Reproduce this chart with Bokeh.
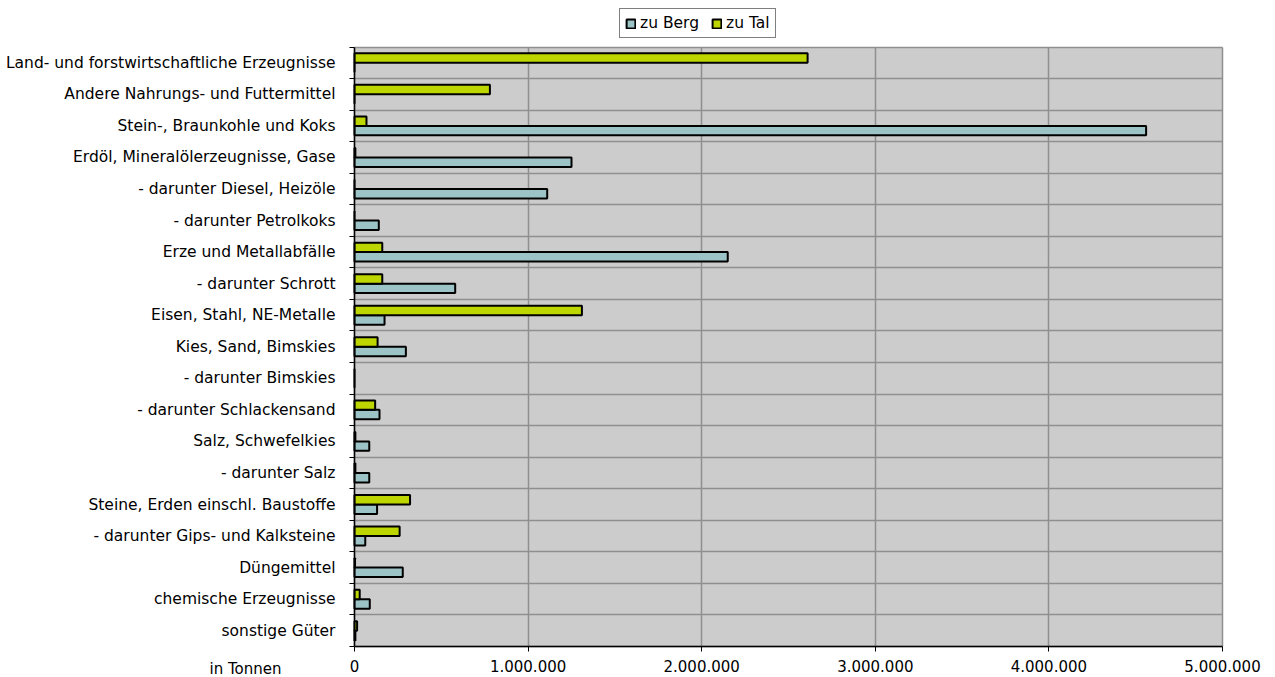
from bokeh.plotting import figure
from bokeh.models import (ColumnDataSource, Range1d, FixedTicker, Legend, LegendItem,
                          Label, BoxAnnotation)
from bokeh.embed import file_html
from bokeh.resources import INLINE

categories = [
    "Land- und forstwirtschaftliche Erzeugnisse",
    "Andere Nahrungs- und Futtermittel",
    "Stein-, Braunkohle und Koks",
    "Erdöl, Mineralölerzeugnisse, Gase",
    "- darunter Diesel, Heizöle",
    "- darunter Petrolkoks",
    "Erze und Metallabfälle",
    "- darunter Schrott",
    "Eisen, Stahl, NE-Metalle",
    "Kies, Sand, Bimskies",
    "- darunter Bimskies",
    "- darunter Schlackensand",
    "Salz, Schwefelkies",
    "- darunter Salz",
    "Steine, Erden einschl. Baustoffe",
    "- darunter Gips- und Kalksteine",
    "Düngemittel",
    "chemische Erzeugnisse",
    "sonstige Güter",
]

zu_berg = [0, 0, 4560000, 1250000, 1110000, 140000, 2150000, 580000, 173000, 296000,
           0, 144000, 85000, 85000, 130000, 62000, 278000, 88000, 5000]
zu_tal = [2610000, 780000, 69000, 5000, 0, 0, 160000, 160000, 1310000, 133000,
          0, 119000, 5000, 5000, 320000, 260000, 3000, 30000, 15000]

x_ticks = [0, 1000000, 2000000, 3000000, 4000000, 5000000]
x_tick_labels = ["0", "1.000.000", "2.000.000", "3.000.000", "4.000.000", "5.000.000"]
unit_text = "in Tonnen"
series_names = ["zu Berg", "zu Tal"]

FONT = "DejaVu Sans"
FS_CAT = "15.5px"
FS_NUM = "15px"
FS_LEG = "15.5px"
W, H = 1275, 677
# plot-area placement on the canvas (pixels)
PL, PR, PT, PB = 354, 1222, 46.5, 646
TICK_OUT, X_STANDOFF = 5, 8

n = len(categories)
xmax = x_ticks[-1]
centers = [i + 0.5 for i in range(n)]
boundaries = list(range(n + 1))

# ranges so that the plot area lands at PL..PR / PT..PB while the frame fills the canvas
xpp = xmax / (PR - PL)
ypp = n / (PB - PT)
x_range = Range1d(-PL * xpp, (W - PL) * xpp)
y_range = Range1d(n + (H - PB) * ypp, -PT * ypp)

src = ColumnDataSource(dict(
    y_tal=[c - 0.15 for c in centers],
    y_berg=[c + 0.15 for c in centers],
    berg=zu_berg,
    tal=zu_tal,
))

p = figure(width=W, height=H, output_backend="svg", toolbar_location=None,
           x_range=x_range, y_range=y_range,
           min_border_left=0, min_border_right=0, min_border_top=0, min_border_bottom=0)
p.border_fill_color = "white"
p.background_fill_color = "white"
p.outline_line_color = None

# grey plot area
p.add_layout(BoxAnnotation(left=0, right=xmax, top=0, bottom=n, fill_color="#CCCCCC",
                           fill_alpha=1, line_color=None, level="image"))

r_berg = p.hbar(y="y_berg", left=0, right="berg", height=0.3, source=src,
                fill_color="#9CC4C6", line_color="black", line_width=2)
r_tal = p.hbar(y="y_tal", left=0, right="tal", height=0.3, source=src,
               fill_color="#BED600", line_color="black", line_width=2)

# grids (category boundaries and value ticks)
p.xgrid.ticker = FixedTicker(ticks=x_ticks)
p.ygrid.ticker = FixedTicker(ticks=boundaries)
for g in (p.xgrid[0], p.ygrid[0]):
    g.grid_line_color = "#8F8F8F"
    g.grid_line_width = 1.5
try:
    p.xgrid[0].cross_bounds = (0, n)
    p.ygrid[0].cross_bounds = (0, xmax)
    p.xgrid[0].bounds = (0, xmax)
    p.ygrid[0].bounds = (0, n)
except Exception:
    for kw in (dict(right=0), dict(left=xmax), dict(bottom=0), dict(top=n)):
        p.add_layout(BoxAnnotation(fill_color="white", fill_alpha=1, line_color=None,
                                   level="underlay", **kw))

# x axis
xa = p.xaxis[0]
xa.fixed_location = n
xa.bounds = (0, xmax)
xa.ticker = FixedTicker(ticks=x_ticks)
xa.major_label_overrides = {t: l for t, l in zip(x_ticks, x_tick_labels)}
xa.major_label_text_font = FONT
xa.major_label_text_font_size = FS_NUM
xa.major_label_text_color = "black"
xa.major_label_standoff = X_STANDOFF
xa.major_tick_out = TICK_OUT
xa.major_tick_in = 0
xa.minor_tick_out = 0
xa.minor_tick_in = 0
xa.axis_line_color = "black"
xa.axis_line_width = 1.5
xa.major_tick_line_color = "black"

# y axis
ya = p.yaxis[0]
ya.fixed_location = 0
ya.bounds = (0, n)
ya.ticker = FixedTicker(ticks=centers, minor_ticks=boundaries)
ya.major_label_overrides = {c: lab for c, lab in zip(centers, categories)}
ya.major_label_text_font = FONT
ya.major_label_text_font_size = FS_CAT
ya.major_label_text_color = "black"
ya.major_label_standoff = 14
ya.major_tick_out = 0
ya.major_tick_in = 0
ya.minor_tick_out = 5
ya.minor_tick_in = 0
ya.minor_tick_line_color = "black"
ya.axis_line_color = "black"
ya.axis_line_width = 1.5

legend = Legend(items=[LegendItem(label=series_names[0], renderers=[r_berg]),
                       LegendItem(label=series_names[1], renderers=[r_tal])],
                orientation="horizontal", location=(619, H - 38))
legend.label_text_font = FONT
legend.label_text_font_size = FS_LEG
legend.label_text_color = "black"
legend.glyph_width = 11
legend.glyph_height = 11
legend.label_standoff = 4
legend.spacing = 12
legend.padding = 5
legend.margin = 0
legend.label_height = 15
legend.border_line_color = "black"
legend.border_line_width = 1
legend.background_fill_color = "white"
p.add_layout(legend, "center")

p.add_layout(Label(x=245, y=H - (PB + TICK_OUT + X_STANDOFF), x_units="screen", y_units="screen",
                   text=unit_text, text_font=FONT, text_font_size=FS_NUM,
                   text_align="center", text_baseline="top", text_color="black"))

open("out.html", "w").write(file_html(p, INLINE))
